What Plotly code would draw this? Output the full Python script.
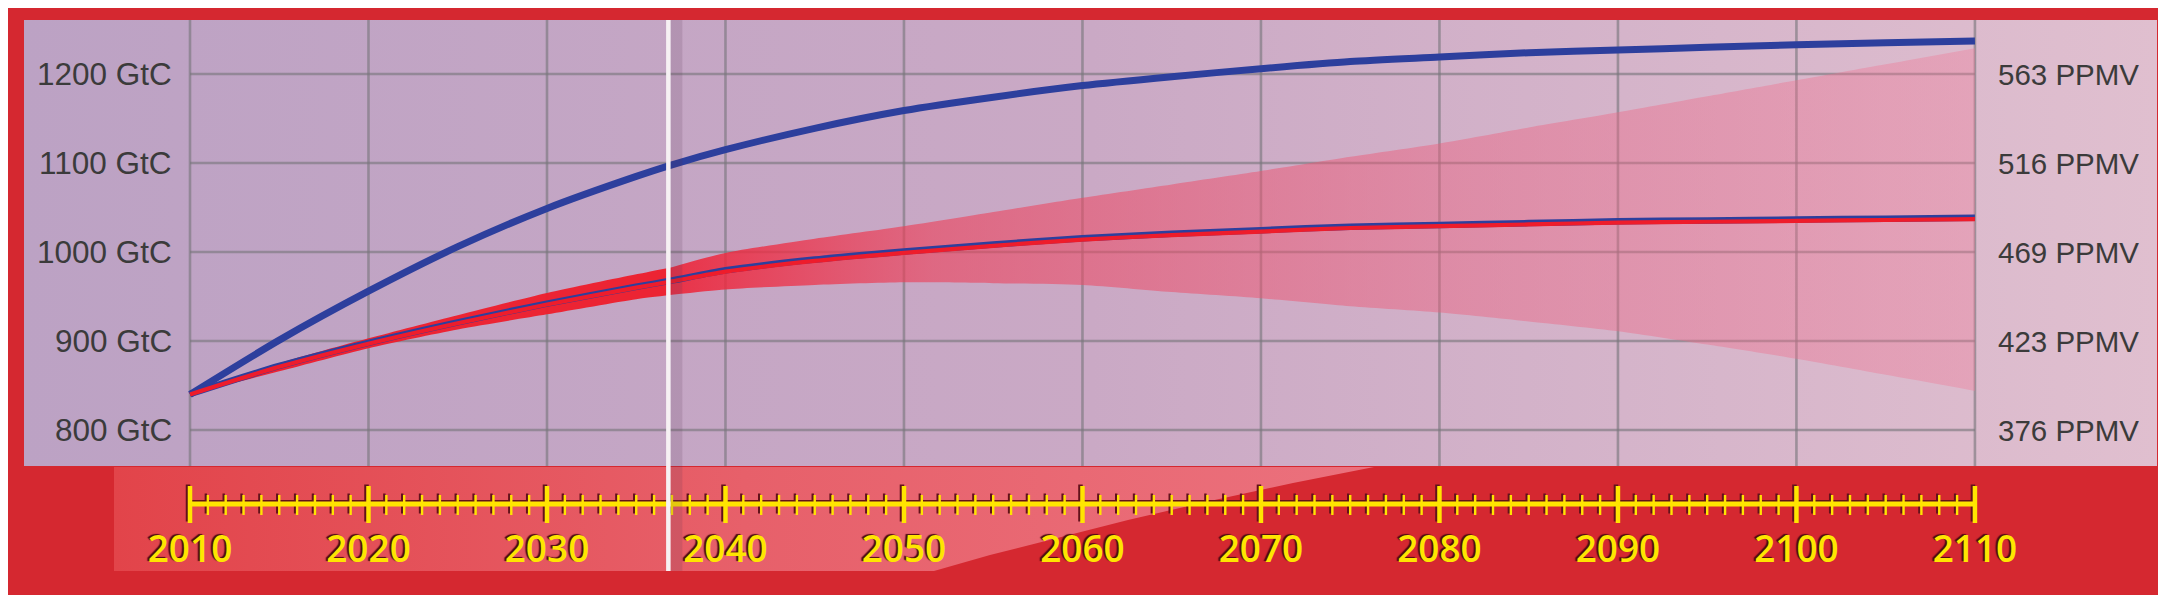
import plotly.graph_objects as go

# ---------------- data ----------------
YEARS = [2010, 2015, 2020, 2025, 2030, 2035, 2037, 2040, 2045, 2050, 2055,
         2060, 2065, 2070, 2075, 2080, 2085, 2090, 2095, 2100, 2105, 2110]
BLUE_HIGH = [840, 901, 956, 1006, 1049, 1085, 1098, 1115, 1139, 1159, 1174,
             1187, 1197, 1206, 1214, 1219, 1224, 1227, 1230, 1233, 1235, 1237]
RED_MID = [840, 871, 897, 920, 941, 960, 967, 978, 990, 999, 1007,
           1014, 1019, 1023, 1027, 1029, 1031, 1033, 1034, 1035, 1036, 1037]
BLUE_LOW = [840.5, 872, 898, 921, 942, 961, 968, 979.5, 991.5, 1000.5, 1008.5,
            1015.5, 1020.5, 1024.5, 1028.5, 1030.5, 1032.5, 1034.5, 1035.5, 1036.5, 1037.5, 1038.5]
BAND_LOW = [840, 866, 892, 913, 930, 947, 952, 958, 963, 966, 965,
            963, 955, 948, 939, 932, 922, 911, 896, 880, 862, 844]
BAND_HIGH = [840, 875, 903, 929, 954, 975, 983, 999, 1015, 1029, 1045,
             1061, 1076, 1091, 1107, 1122, 1140, 1157, 1175, 1193, 1211, 1229]
CURRENT_YEAR = 2036.8
SPLIT_YEAR = 2037

X_TICKS = [2010, 2020, 2030, 2040, 2050, 2060, 2070, 2080, 2090, 2100, 2110]
X_TICK_LABELS = ["2010", "2020", "2030", "2040", "2050", "2060", "2070",
                 "2080", "2090", "2100", "2110"]
MINOR_YEARS = [y for y in range(2010, 2111) if y % 10 != 0]
Y_TICKS = [800, 900, 1000, 1100, 1200]
Y_LEFT_LABELS = ["800 GtC", "900 GtC", "1000 GtC", "1100 GtC", "1200 GtC"]
Y_RIGHT_LABELS = ["376 PPMV", "423 PPMV", "469 PPMV", "516 PPMV", "563 PPMV"]

# ---------------- layout geometry (pixels) ----------------
W, H = 2166, 595
PL, PR, PT, PB = 16, 2149, 12, 458          # main panel
ST, SB = 459, 563                           # timeline strip
X_RANGE = [2000.70, 2120.20]
Y_RANGE = [759.6, 1260.7]
S_RANGE = [0, SB - ST]


def px2year(px):
    return X_RANGE[0] + (px - PL) / (PR - PL) * (X_RANGE[1] - X_RANGE[0])


def sv(py):  # strip pixel row -> strip axis value
    return SB - py


YR_PER_PX = (X_RANGE[1] - X_RANGE[0]) / (PR - PL)

RED_BG = "#D52830"
TXT = "#3B3B3B"
GRID = "rgba(120,118,122,0.62)"
BLUE = "#2D3F9D"
RED = "#EE1C2B"
YELLOW = "#FFE500"
DARK = "#62121A"
FONT = "Liberation Sans, Arial, sans-serif"
SMOOTH = dict(shape="spline", smoothing=0.7)

fig = go.Figure()
nohover = dict(hoverinfo="skip", showlegend=False)

# panel background gradient
fig.add_trace(go.Scatter(
    x=[X_RANGE[0], X_RANGE[1], X_RANGE[1], X_RANGE[0], X_RANGE[0]],
    y=[Y_RANGE[0], Y_RANGE[0], Y_RANGE[1], Y_RANGE[1], Y_RANGE[0]],
    mode="lines", line=dict(width=0), fill="toself",
    fillgradient=dict(type="horizontal",
                      colorscale=[[0, "#BCA2C4"], [0.5, "#CAA9C5"], [1, "#E0BFCF"]]),
    **nohover))

# gridlines
gx, gy = [], []
for t in X_TICKS:
    gx += [t, t, None]
    gy += [Y_RANGE[0], Y_RANGE[1], None]
for v in Y_TICKS:
    gx += [X_TICKS[0], X_TICKS[-1], None]
    gy += [v, v, None]
fig.add_trace(go.Scatter(x=gx, y=gy, mode="lines",
                         line=dict(color=GRID, width=2.6), **nohover))

# uncertainty band
k = YEARS.index(SPLIT_YEAR)
fig.add_trace(go.Scatter(x=YEARS[:k + 1], y=BAND_LOW[:k + 1], mode="lines",
                         line=dict(width=0, color=RED, **SMOOTH), **nohover))
fig.add_trace(go.Scatter(x=YEARS[:k + 1], y=BAND_HIGH[:k + 1], mode="lines",
                         line=dict(width=0, color=RED, **SMOOTH), fill="tonexty",
                         fillcolor="rgba(238,28,43,0.95)", **nohover))
fig.add_trace(go.Scatter(x=YEARS[k:], y=BAND_LOW[k:], mode="lines",
                         line=dict(width=0, color=RED, **SMOOTH), **nohover))
fig.add_trace(go.Scatter(x=YEARS[k:], y=BAND_HIGH[k:], mode="lines",
                         line=dict(width=0, color=RED, **SMOOTH), fill="tonexty",
                         fillgradient=dict(type="horizontal", colorscale=[
                             [0, "rgba(238,35,55,0.88)"],
                             [0.2, "rgba(236,65,90,0.62)"],
                             [0.6, "rgba(236,95,125,0.45)"],
                             [1, "rgba(240,120,150,0.36)"]]),
                         **nohover))

# curves
fig.add_trace(go.Scatter(x=YEARS, y=BLUE_HIGH, mode="lines",
                         line=dict(color=BLUE, width=7, **SMOOTH), **nohover))
fig.add_trace(go.Scatter(x=YEARS, y=BLUE_LOW, mode="lines",
                         line=dict(color=BLUE, width=6.5, **SMOOTH), **nohover))
fig.add_trace(go.Scatter(x=YEARS, y=RED_MID, mode="lines",
                         line=dict(color=RED, width=4.2, **SMOOTH), **nohover))

# ---------------- timeline strip ----------------
curve_px = [(1366, 459), (1285, 475), (1202, 493), (1120, 512), (1044, 531),
            (982, 547), (926, 563)]
sx = [px2year(106), px2year(1366)] + [px2year(p[0]) for p in curve_px[1:]] + [px2year(106), px2year(106)]
sy = [sv(459), sv(459)] + [sv(p[1]) for p in curve_px[1:]] + [sv(563), sv(459)]
fig.add_trace(go.Scatter(x=sx, y=sy, xaxis="x2", yaxis="y2", mode="lines",
                         line=dict(width=0), fill="toself",
                         fillgradient=dict(type="horizontal",
                                           colorscale=[[0, "#E2444A"], [0.5, "#E7606A"], [1, "#EB717D"]]),
                         **nohover))

LINE_V = sv(496)
MAJ = (sv(515), sv(478))
MIN = (sv(507), sv(487))


def ruler(dx, dy, color):
    xs, ys = [X_TICKS[0] + dx, X_TICKS[-1] + dx], [LINE_V + dy, LINE_V + dy]
    fig.add_trace(go.Scatter(x=xs, y=ys, xaxis="x2", yaxis="y2", mode="lines",
                             line=dict(color=color, width=5), **nohover))
    mx, my = [], []
    for t in X_TICKS:
        mx += [t + dx, t + dx, None]
        my += [MAJ[0] + dy, MAJ[1] + dy, None]
    fig.add_trace(go.Scatter(x=mx, y=my, xaxis="x2", yaxis="y2", mode="lines",
                             line=dict(color=color, width=4.5), **nohover))
    nx, ny = [], []
    for t in MINOR_YEARS:
        nx += [t + dx, t + dx, None]
        ny += [MIN[0] + dy, MIN[1] + dy, None]
    fig.add_trace(go.Scatter(x=nx, y=ny, xaxis="x2", yaxis="y2", mode="lines",
                             line=dict(color=color, width=2.4), **nohover))


ruler(-2 * YR_PER_PX, 1.5, DARK)
ruler(0, 0, YELLOW)

fig.add_trace(go.Scatter(
    x=X_TICKS, y=[sv(545)] * len(X_TICKS), xaxis="x2", yaxis="y2",
    mode="text", text=X_TICK_LABELS,
    textfont=dict(family="Open Sans, sans-serif", size=37, color=YELLOW, weight=600,
                  shadow="-2px -1px 1px #4E0A10"),
    **nohover))

# ---------------- shapes ----------------
shapes = [
    dict(type="rect", xref="x", yref="paper",
         x0=CURRENT_YEAR + 2 * YR_PER_PX, x1=CURRENT_YEAR + 14 * YR_PER_PX,
         y0=1 - SB / H, y1=1 - PT / H, fillcolor="rgba(90,50,80,0.16)",
         line=dict(width=0), layer="above"),
    dict(type="line", xref="x", yref="paper", x0=CURRENT_YEAR, x1=CURRENT_YEAR,
         y0=1 - SB / H, y1=1 - PT / H, line=dict(color="#F6F1F3", width=4.5),
         layer="above"),
]

# ---------------- axis labels ----------------
annotations = []
for v, lab in zip(Y_TICKS, Y_LEFT_LABELS):
    annotations.append(dict(xref="paper", yref="y", x=166 / W, y=v, text=lab,
                            xanchor="right", yanchor="middle", showarrow=False,
                            font=dict(family=FONT, size=31.5, color=TXT)))
for v, lab in zip(Y_TICKS, Y_RIGHT_LABELS):
    annotations.append(dict(xref="paper", yref="y", x=1988 / W, y=v, text=lab,
                            xanchor="left", yanchor="middle", showarrow=False,
                            font=dict(family=FONT, size=29.5, color=TXT)))

hidden = dict(visible=False, showgrid=False, zeroline=False, fixedrange=True)
fig.update_layout(
    width=W, height=H, autosize=False,
    margin=dict(l=0, r=0, t=0, b=0, pad=0),
    paper_bgcolor=RED_BG, plot_bgcolor="rgba(0,0,0,0)",
    showlegend=False, hovermode=False,
    xaxis=dict(domain=[PL / W, PR / W], range=X_RANGE, anchor="y", **hidden),
    yaxis=dict(domain=[1 - PB / H, 1 - PT / H], range=Y_RANGE, anchor="x", **hidden),
    xaxis2=dict(domain=[PL / W, PR / W], range=X_RANGE, matches="x", anchor="y2", **hidden),
    yaxis2=dict(domain=[1 - SB / H, 1 - ST / H], range=S_RANGE, anchor="x2", **hidden),
    shapes=shapes, annotations=annotations,
)

fig.write_html("out.html", config={"displayModeBar": False})
